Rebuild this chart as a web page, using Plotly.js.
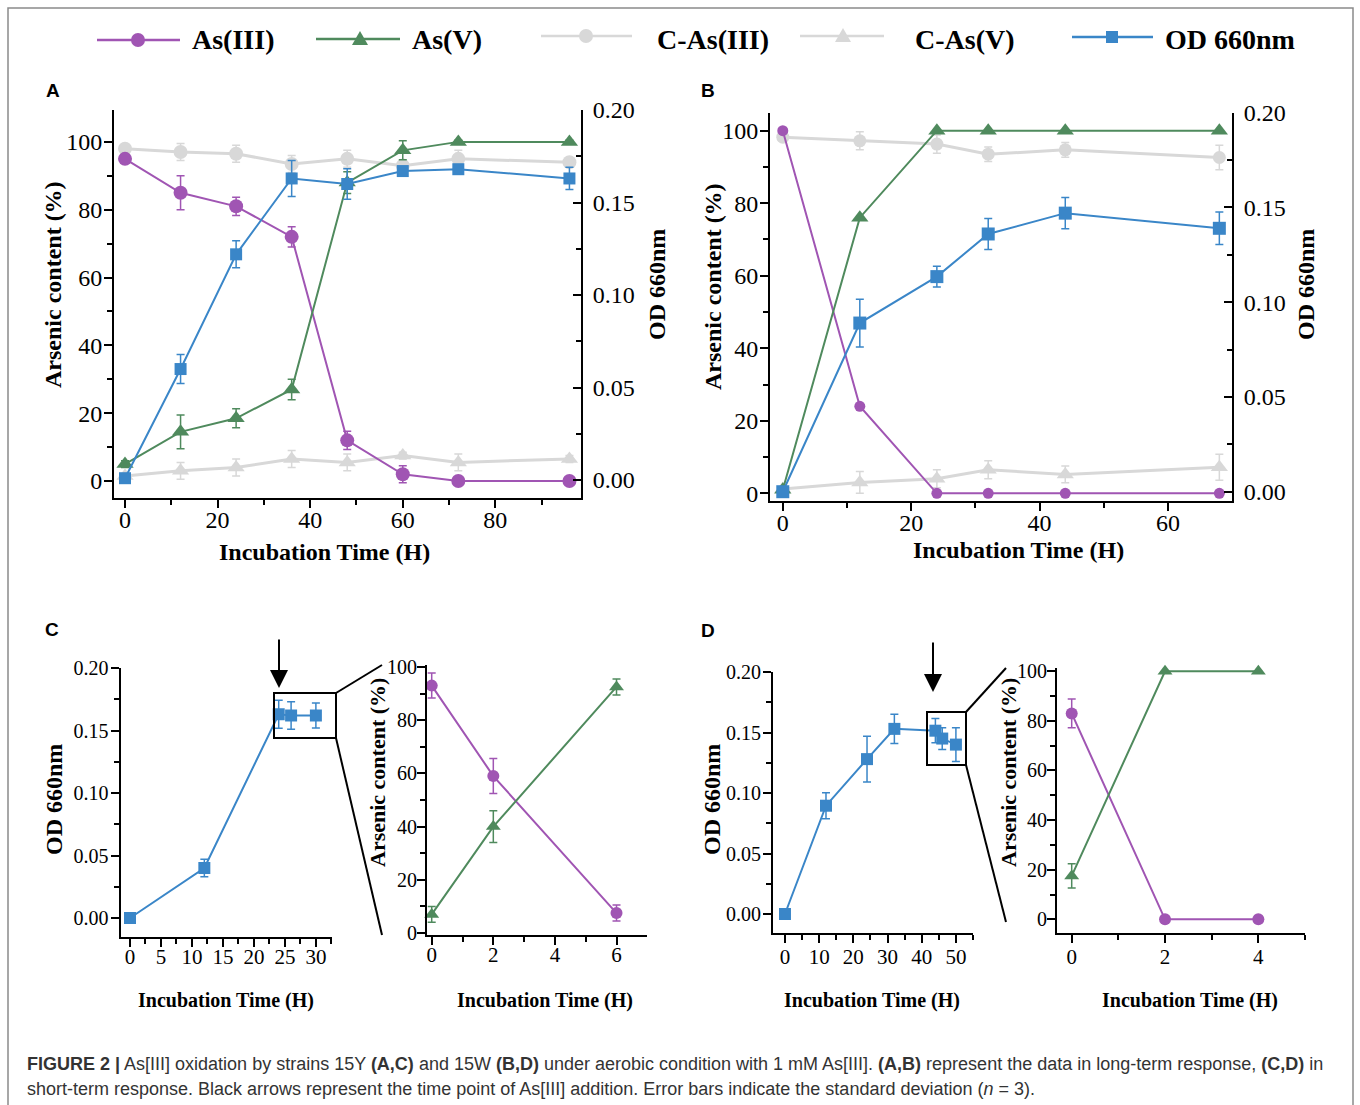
<!DOCTYPE html>
<html><head><meta charset="utf-8">
<script src="https://cdn.plot.ly/plotly-3.0.1.min.js"></script>
<style>html,body{margin:0;padding:0;background:#fff}#chart{width:1360px;height:1105px}</style>
</head><body><div id="chart"></div>
<script>
// ---------- data ----------
// Panel A (strain 15Y, long term)
const A_time  = [0, 12, 24, 36, 48, 60, 72, 96];
const A_as3   = [95, 85, 81, 72, 12, 2, 0, 0];
const A_as3_e = [1, 5, 2.7, 3, 2.7, 2.5, 0.5, 0.5];
const A_as5   = [5, 14.5, 18.5, 27, 88, 97.5, 100, 100];
const A_as5_e = [1, 5, 2.8, 3, 3.2, 2.8, 0.5, 0.5];
const A_cas3  = [98, 97, 96.5, 93.5, 95, 93, 95, 94];
const A_cas3_e= [1, 2.5, 2.5, 2.5, 2.5, 1, 2.5, 1];
const A_cas5  = [1.5, 3, 4, 6.5, 5.5, 7.5, 5.5, 6.5];
const A_cas5_e= [0.5, 2.5, 2.5, 2.5, 2.5, 1, 2.5, 1];
const A_od    = [0.001, 0.060, 0.122, 0.163, 0.160, 0.167, 0.168, 0.163];
const A_od_e  = [0.001, 0.0078, 0.0073, 0.0097, 0.0083, 0.002, 0.002, 0.006];
// Panel B (strain 15W, long term)
const B_time  = [0, 12, 24, 32, 44, 68];
const B_as3   = [100, 24, 0, 0, 0, 0];
const B_as5   = [1, 76, 100, 100, 100, 100];
const B_cas3  = [98.2, 97.2, 96.3, 93.5, 94.7, 92.6];
const B_cas3_e= [1, 2.5, 2.5, 2, 2, 3.4];
const B_cas5  = [1.2, 3, 4, 6.5, 5.2, 7.2];
const B_cas5_e= [0.5, 3, 2.5, 2.5, 2.3, 3.6];
const B_od    = [0.000, 0.089, 0.1135, 0.136, 0.147, 0.139];
const B_od_e  = [0, 0.0126, 0.0055, 0.0082, 0.0082, 0.0086];
// Panel C (15Y, short term)
const C_od_time = [0, 12, 24, 26, 30];
const C_od      = [0.000, 0.040, 0.163, 0.162, 0.162];
const C_od_e    = [0, 0.007, 0.0112, 0.011, 0.010];
const C_time    = [0, 2, 6];
const C_as3     = [93, 59, 7.5];
const C_as3_e   = [4.7, 6.6, 3];
const C_as5     = [7, 40, 92.5];
const C_as5_e   = [3, 6, 3];
// Panel D (15W, short term)
const D_od_time = [0, 12, 24, 32, 44, 46, 50];
const D_od      = [0.000, 0.0895, 0.128, 0.153, 0.1515, 0.145, 0.140];
const D_od_e    = [0, 0.0107, 0.019, 0.012, 0.010, 0.009, 0.014];
const D_time    = [0, 2, 4];
const D_as3     = [83, 0, 0];
const D_as3_e   = [5.8, 0, 0];
const D_as5     = [17.5, 100, 100];
const D_as5_e   = [4.9, 0, 0];

const seriesNames = ['As(III)', 'As(V)', 'C-As(III)', 'C-As(V)', 'OD 660nm'];
const caption1 = '<b>FIGURE 2 |</b> As[III] oxidation by strains 15Y <b>(A,C)</b> and 15W <b>(B,D)</b> under aerobic condition with 1 mM As[III]. <b>(A,B)</b> represent the data in long-term response, <b>(C,D)</b> in';
const caption2 = 'short-term response. Black arrows represent the time point of As[III] addition. Error bars indicate the standard deviation (<i>n</i> = 3).';

// ---------- styling ----------
const PURPLE = '#a055b3', GREEN = '#4f8a5d', GRAY = '#d8d8d8', BLUE = '#3a86c8';
const SERIF = 'Liberation Serif, Times New Roman, serif';
const SANS = 'Liberation Sans, Arial, sans-serif';
const W = 1360, H = 1105;
const px = x => x / W, py = y => 1 - y / H;
const domX = (a, b) => [px(a), px(b)];
const domY = (top, bottom) => [py(bottom), py(top)];

function tr(x, y, err, color, symbol, size, xa, ya, lw) {
  const t = {type: 'scatter', mode: 'lines+markers', x: x, y: y, xaxis: xa, yaxis: ya,
    line: {color: color, width: lw || 2}, marker: {symbol: symbol, size: size, color: color},
    showlegend: false, cliponaxis: false, hoverinfo: 'skip'};
  if (err) t.error_y = {type: 'data', array: err, visible: true, color: color, thickness: 1.5, width: 4};
  return t;
}
function ax(domain, range, dtick, minor, fs, extra) {
  return Object.assign({domain: domain, range: range, dtick: dtick, tick0: 0, showline: true,
    linecolor: '#000', linewidth: 2, ticks: 'outside', ticklen: 8, tickwidth: 2, tickcolor: '#000',
    minor: {dtick: minor, tick0: 0, ticks: 'outside', ticklen: 5, tickwidth: 2, tickcolor: '#000'},
    showgrid: false, zeroline: false, fixedrange: true,
    tickfont: {family: SERIF, size: fs, color: '#000'}}, extra || {});
}

const data = [
  // A
  tr(A_time, A_cas3, A_cas3_e, GRAY, 'circle', 14, 'x', 'y', 3),
  tr(A_time, A_cas5, A_cas5_e, GRAY, 'triangle-up', 15, 'x', 'y', 3),
  tr(A_time, A_as3, A_as3_e, PURPLE, 'circle', 14, 'x', 'y'),
  tr(A_time, A_as5, A_as5_e, GREEN, 'triangle-up', 15, 'x', 'y'),
  tr(A_time, A_od, A_od_e, BLUE, 'square', 12, 'x', 'y2'),
  // B
  tr(B_time, B_cas3, B_cas3_e, GRAY, 'circle', 13, 'x2', 'y3', 3),
  tr(B_time, B_cas5, B_cas5_e, GRAY, 'triangle-up', 15, 'x2', 'y3', 3),
  tr(B_time, B_as3, null, PURPLE, 'circle', 11, 'x2', 'y3'),
  tr(B_time, B_as5, null, GREEN, 'triangle-up', 15, 'x2', 'y3'),
  tr(B_time, B_od, B_od_e, BLUE, 'square', 13, 'x2', 'y4'),
  // C
  tr(C_od_time, C_od, C_od_e, BLUE, 'square', 12, 'x3', 'y5'),
  tr(C_time, C_as3, C_as3_e, PURPLE, 'circle', 12, 'x4', 'y6'),
  tr(C_time, C_as5, C_as5_e, GREEN, 'triangle-up', 13, 'x4', 'y6'),
  // D
  tr(D_od_time, D_od, D_od_e, BLUE, 'square', 12, 'x5', 'y7'),
  tr(D_time, D_as3, D_as3_e, PURPLE, 'circle', 12, 'x6', 'y8'),
  tr(D_time, D_as5, D_as5_e, GREEN, 'triangle-up', 13, 'x6', 'y8')
];

const f2 = {tickformat: '.2f'};
const rightMinor = {dtick: 0.025, tick0: 0, ticks: 'inside', ticklen: 5, tickwidth: 2, tickcolor: '#000'};
const layout = {
  width: W, height: H, margin: {l: 0, r: 0, t: 0, b: 0},
  paper_bgcolor: '#fff', plot_bgcolor: 'rgba(0,0,0,0)', showlegend: false,
  // A
  xaxis:  ax(domX(114, 581), [-2.38, 98.5], 20, 10, 24, {anchor: 'y', ticklabelstandoff: -9}),
  yaxis:  ax(domY(110, 498), [-5.0, 109.4], 20, 10, 24, {anchor: 'x', ticklabelstandoff: -3}),
  yaxis2: ax(domY(110, 498), [-0.0097, 0.2], 0.05, 0.025, 24, Object.assign({anchor: 'x', overlaying: 'y', side: 'right', ticks: 'inside', ticklabelstandoff: 5, minor: rightMinor}, f2)),
  // B
  xaxis2: ax(domX(770, 1232), [-1.99, 69.97], 20, 10, 24, {anchor: 'y3', ticklabelstandoff: -9}),
  yaxis3: ax(domY(112.7, 501), [-2.12, 104.95], 20, 10, 24, {anchor: 'x2', ticklabelstandoff: -3}),
  yaxis4: ax(domY(112.7, 501), [-0.0049, 0.2], 0.05, 0.025, 24, Object.assign({anchor: 'x2', overlaying: 'y3', side: 'right', ticks: 'inside', ticklabelstandoff: 5, minor: rightMinor}, f2)),
  // C
  xaxis3: ax(domX(120.5, 332), [-1.53, 32.6], 5, 2.5, 21, {anchor: 'y5', ticklabelstandoff: -8}),
  yaxis5: ax(domY(668, 937), [-0.0152, 0.2], 0.05, 0.025, 20, Object.assign({anchor: 'x3', ticklabelstandoff: -2}, f2)),
  xaxis4: ax(domX(427, 647), [-0.153, 6.99], 2, 1, 21, {anchor: 'y6', ticklabelstandoff: -8}),
  yaxis6: ax(domY(665, 935), [-0.75, 100.75], 20, 10, 20, {anchor: 'x4', ticklabelstandoff: -4}),
  // D
  xaxis5: ax(domX(773, 973), [-3.5, 55], 10, 5, 21, {anchor: 'y7', ticklabelstandoff: -4}),
  yaxis7: ax(domY(672, 933), [-0.0157, 0.2], 0.05, 0.025, 20, Object.assign({anchor: 'x5', ticklabelstandoff: -2}, f2)),
  xaxis6: ax(domX(1057, 1305), [-0.315, 5.0], 2, 1, 21, {anchor: 'y8', ticklabelstandoff: -4}),
  yaxis8: ax(domY(668, 933), [-5.5, 101.3], 20, 10, 20, {anchor: 'x6', ticklabelstandoff: -4}),
  shapes: [], annotations: []
};

const S = layout.shapes, A = layout.annotations;
function line(x0, y0, x1, y1, color, w) {
  S.push({type: 'line', xref: 'paper', yref: 'paper', x0: px(x0), y0: py(y0), x1: px(x1), y1: py(y1), line: {color: color, width: w}});
}
function text(x, y, t, opts) {
  A.push(Object.assign({xref: 'paper', yref: 'paper', x: px(x), y: py(y), text: t, showarrow: false,
    xanchor: 'center', yanchor: 'middle', font: {family: SERIF, size: 24, color: '#000'}}, opts || {}));
}
const bold = (fs) => ({font: {family: SERIF, size: fs, color: '#000', weight: 'bold'}});

// outer frame
S.push({type: 'rect', xref: 'paper', yref: 'paper', x0: px(8), x1: px(1353), y0: py(1115), y1: py(8), line: {color: '#8a8a8a', width: 1.5}});

// legend (drawn)
const legItems = [
  {lx0: 97, lx1: 180, mx: 138, ly: 40, color: PURPLE, sym: 'circle', tx: 190},
  {lx0: 316, lx1: 400, mx: 360, ly: 39, color: GREEN, sym: 'tri', tx: 410},
  {lx0: 541, lx1: 632, mx: 586, ly: 36, color: GRAY, sym: 'circle', tx: 655},
  {lx0: 800, lx1: 884, mx: 843, ly: 36, color: GRAY, sym: 'tri', tx: 913},
  {lx0: 1072, lx1: 1153, mx: 1112, ly: 37, color: BLUE, sym: 'square', tx: 1163}
];
legItems.forEach((it, i) => {
  line(it.lx0, it.ly, it.lx1, it.ly, it.color, 2.5);
  if (it.sym === 'circle') {
    S.push({type: 'circle', xref: 'paper', yref: 'paper', x0: px(it.mx - 7), x1: px(it.mx + 7), y0: py(it.ly + 7), y1: py(it.ly - 7), fillcolor: it.color, line: {color: it.color, width: 0}});
  } else if (it.sym === 'square') {
    S.push({type: 'rect', xref: 'paper', yref: 'paper', x0: px(it.mx - 6), x1: px(it.mx + 6), y0: py(it.ly + 6), y1: py(it.ly - 6), fillcolor: it.color, line: {color: it.color, width: 0}});
  } else {
    const p = 'M' + px(it.mx - 8) + ',' + py(it.ly + 6) + ' L' + px(it.mx + 8) + ',' + py(it.ly + 6) + ' L' + px(it.mx) + ',' + py(it.ly - 8) + ' Z';
    S.push({type: 'path', xref: 'paper', yref: 'paper', path: p, fillcolor: it.color, line: {color: it.color, width: 0}});
  }
  text(it.tx, 40, seriesNames[i], Object.assign({xanchor: 'left'}, bold(28)));
});

// panel letters
const PL = {font: {family: SANS, size: 19, color: '#000', weight: 'bold'}};
text(53, 90, 'A', PL); text(708, 90, 'B', PL); text(52, 629, 'C', PL); text(708, 630, 'D', PL);

// axis titles
const ARS = 'Arsenic content (%)', INC = 'Incubation Time (H)', OD = 'OD 660nm';
text(53, 285, ARS, Object.assign({textangle: -90}, bold(24)));
text(324, 552, INC, bold(24));
text(657, 285, OD, Object.assign({textangle: -90}, bold(24)));
text(713, 287, ARS, Object.assign({textangle: -90}, bold(24)));
text(1018, 550, INC, bold(24));
text(1306, 285, OD, Object.assign({textangle: -90}, bold(24)));
text(54, 800, OD, Object.assign({textangle: -90}, bold(24)));
text(226, 1000, INC, bold(20));
text(377, 773, ARS, Object.assign({textangle: -90}, bold(22)));
text(545, 1000, INC, bold(20));
text(712, 800, OD, Object.assign({textangle: -90}, bold(24)));
text(872, 1000, INC, bold(20));
text(1008, 773, ARS, Object.assign({textangle: -90}, bold(22)));
text(1190, 1000, INC, bold(20));

// zoom boxes, connectors and arrows (C and D)
S.push({type: 'rect', xref: 'paper', yref: 'paper', x0: px(274), x1: px(336), y0: py(738), y1: py(693), line: {color: '#000', width: 2}});
line(336, 693, 382, 665, '#000', 2); line(336, 738, 382, 935, '#000', 2);
S.push({type: 'rect', xref: 'paper', yref: 'paper', x0: px(927), x1: px(966), y0: py(765), y1: py(712), line: {color: '#000', width: 2}});
line(966, 712, 1006, 668, '#000', 2); line(966, 765, 1006, 922, '#000', 2);
[[279, 688, 50], [933, 692, 51]].forEach(a => {
  A.push({xref: 'paper', yref: 'paper', x: px(a[0]), y: py(a[1]), ax: 0, ay: -a[2], text: '', showarrow: true,
    arrowhead: 2, arrowsize: 1.8, arrowwidth: 2, arrowcolor: '#000', standoff: 0});
});

// caption
const CAP = {xanchor: 'left', font: {family: SANS, size: 18, color: '#333'}};
text(25, 1064, caption1, CAP);
text(25, 1089, caption2, CAP);

Plotly.newPlot('chart', data, layout, {staticPlot: true, displayModeBar: false});
</script></body></html>
